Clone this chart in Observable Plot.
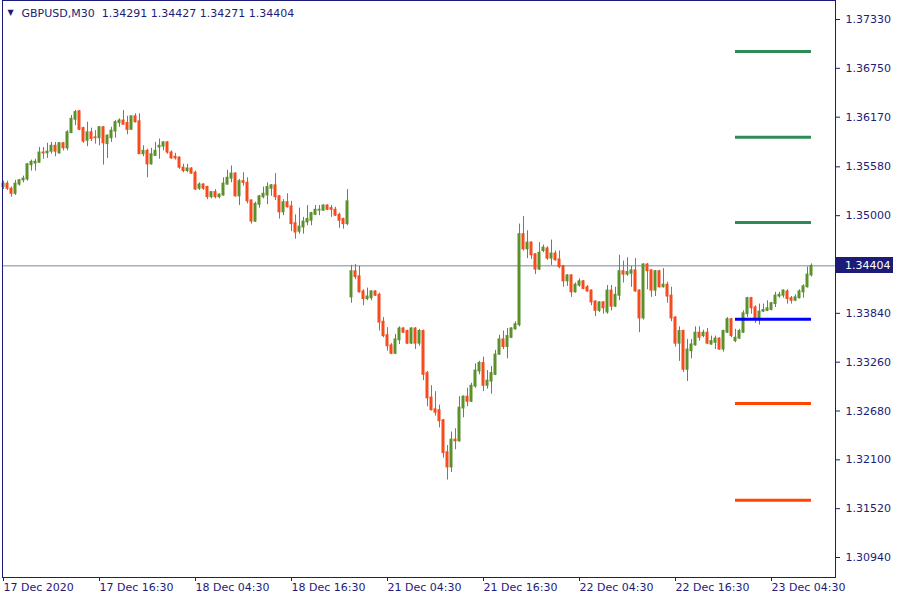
<!DOCTYPE html>
<html>
<head>
<meta charset="utf-8">
<script src="https://cdn.jsdelivr.net/npm/d3@7"></script>
<script src="https://cdn.jsdelivr.net/npm/@observablehq/plot@0.6"></script>
<style>
  html, body { margin: 0; padding: 0; background: #ffffff; }
  #chart { width: 900px; height: 600px; }
</style>
</head>
<body>
<div id="chart"></div>
<script>
// ---- Data (GBPUSD, M30) ----
const symbol = "GBPUSD";
const period = "M30";

const open = [
1.3534,1.3538,1.3532,1.3526,1.3537,1.3542,1.3543,1.3560,1.3562,1.3563,
1.3575,1.3574,1.3576,1.3583,1.3574,1.3586,1.3580,1.3598,1.3614,1.3624,
1.3604,1.3589,1.3599,1.3593,1.3592,1.3605,1.3585,1.3592,1.3600,1.3610,
1.3613,1.3610,1.3602,1.3618,1.3612,1.3573,1.3577,1.3561,1.3571,1.3581,
1.3582,1.3587,1.3575,1.3570,1.3569,1.3557,1.3553,1.3556,1.3551,1.3532,
1.3537,1.3534,1.3522,1.3528,1.3522,1.3524,1.3537,1.3544,1.3550,1.3523,
1.3541,1.3539,1.3518,1.3493,1.3513,1.3522,1.3524,1.3532,1.3536,1.3523,
1.3504,1.3516,1.3511,1.3491,1.3481,1.3486,1.3492,1.3494,1.3501,1.3506,
1.3506,1.3512,1.3509,1.3507,1.3501,1.3496,1.3490,1.3403,1.3434,1.3428,
1.3410,1.3401,1.3402,1.3410,1.3406,1.3374,1.3358,1.3346,1.3336,1.3352,
1.3366,1.3363,1.3348,1.3366,1.3348,1.3363,1.3313,1.3284,1.3270,1.3269,
1.3257,1.3219,1.3201,1.3234,1.3232,1.3271,1.3285,1.3279,1.3297,1.3315,
1.3325,1.3298,1.3303,1.3311,1.3335,1.3353,1.3344,1.3355,1.3365,1.3370,
1.3478,1.3460,1.3468,1.3454,1.3436,1.3458,1.3461,1.3449,1.3455,1.3448,
1.3440,1.3422,1.3429,1.3409,1.3417,1.3422,1.3415,1.3411,1.3398,1.3387,
1.3397,1.3385,1.3411,1.3392,1.3405,1.3434,1.3430,1.3431,1.3435,1.3411,
1.3378,1.3442,1.3435,1.3411,1.3434,1.3415,1.3418,1.3405,1.3379,1.3348,
1.3363,1.3317,1.3339,1.3346,1.3361,1.3357,1.3361,1.3347,1.3349,1.3354,
1.3341,1.3361,1.3377,1.3351,1.3354,1.3361,1.3383,1.3402,1.3391,1.3376,
1.3386,1.3387,1.3388,1.3395,1.3404,1.3405,1.3410,1.3402,1.3399,1.3402,
1.3409,1.3415,1.34291];

const high = [
1.3541,1.3541,1.3534,1.3542,1.3543,1.3547,1.3562,1.3566,1.3567,1.3581,
1.3581,1.3586,1.3587,1.3587,1.3587,1.3587,1.3601,1.3619,1.3625,1.3625,
1.3605,1.3611,1.3604,1.3601,1.3606,1.3606,1.3596,1.3605,1.3613,1.3615,
1.3625,1.3618,1.3618,1.3621,1.3621,1.3583,1.3579,1.3580,1.3587,1.3591,
1.3588,1.3588,1.3577,1.3574,1.3570,1.3561,1.3561,1.3557,1.3553,1.3539,
1.3538,1.3535,1.3528,1.3531,1.3526,1.3545,1.3554,1.3559,1.3551,1.3543,
1.3551,1.3545,1.3519,1.3516,1.3524,1.3534,1.3539,1.3537,1.3550,1.3524,
1.3519,1.3526,1.3517,1.3501,1.3509,1.3498,1.3512,1.3504,1.3512,1.3512,
1.3513,1.3513,1.3512,1.3510,1.3503,1.3497,1.3531,1.3441,1.3442,1.3440,
1.3412,1.3414,1.3411,1.3411,1.3408,1.3379,1.3367,1.3348,1.3359,1.3368,
1.3367,1.3364,1.3367,1.3367,1.3365,1.3364,1.3315,1.3298,1.3291,1.3275,
1.3258,1.3227,1.3243,1.3247,1.3285,1.3286,1.3295,1.3301,1.3324,1.3327,
1.3332,1.3316,1.3321,1.3340,1.3358,1.3363,1.3366,1.3367,1.3374,1.3490,
1.3499,1.3482,1.3469,1.3455,1.3468,1.3465,1.3463,1.3471,1.3458,1.3458,
1.3441,1.3430,1.3430,1.3420,1.3425,1.3423,1.3417,1.3412,1.3399,1.3398,
1.3398,1.3417,1.3417,1.3415,1.3453,1.3446,1.3450,1.3440,1.3449,1.3412,
1.3443,1.3443,1.3436,1.3435,1.3435,1.3437,1.3421,1.3415,1.3380,1.3368,
1.3364,1.3353,1.3353,1.3368,1.3368,1.3364,1.3366,1.3357,1.3357,1.3355,
1.3364,1.3379,1.3378,1.3365,1.3365,1.3387,1.3403,1.3403,1.3393,1.3395,
1.3395,1.3399,1.3397,1.3409,1.3409,1.3412,1.3412,1.3404,1.3406,1.3412,
1.3418,1.3439,1.34427];

const low = [
1.3531,1.3530,1.3522,1.3524,1.3535,1.3539,1.3541,1.3553,1.3553,1.3562,
1.3567,1.3568,1.3573,1.3570,1.3573,1.3577,1.3577,1.3598,1.3607,1.3601,
1.3586,1.3582,1.3588,1.3585,1.3583,1.3560,1.3568,1.3587,1.3592,1.3605,
1.3608,1.3596,1.3602,1.3610,1.3573,1.3570,1.3545,1.3560,1.3571,1.3567,
1.3577,1.3573,1.3567,1.3566,1.3555,1.3551,1.3551,1.3549,1.3530,1.3530,
1.3530,1.3519,1.3520,1.3520,1.3520,1.3523,1.3536,1.3539,1.3522,1.3512,
1.3535,1.3514,1.3490,1.3492,1.3509,1.3520,1.3513,1.3523,1.3518,1.3496,
1.3500,1.3509,1.3481,1.3472,1.3478,1.3478,1.3488,1.3488,1.3500,1.3500,
1.3505,1.3506,1.3498,1.3499,1.3485,1.3484,1.3488,1.3396,1.3424,1.3408,
1.3393,1.3399,1.3399,1.3404,1.3363,1.3355,1.3339,1.3335,1.3335,1.3347,
1.3360,1.3347,1.3347,1.3341,1.3345,1.3304,1.3273,1.3268,1.3262,1.3248,
1.3212,1.3186,1.3195,1.3222,1.3231,1.3260,1.3273,1.3278,1.3295,1.3311,
1.3291,1.3294,1.3288,1.3310,1.3334,1.3341,1.3330,1.3354,1.3364,1.3368,
1.3458,1.3449,1.3448,1.3430,1.3435,1.3456,1.3447,1.3441,1.3446,1.3437,
1.3415,1.3416,1.3403,1.3408,1.3415,1.3412,1.3409,1.3393,1.3380,1.3385,
1.3383,1.3383,1.3387,1.3391,1.3399,1.3420,1.3428,1.3415,1.3409,1.3361,
1.3376,1.3412,1.3403,1.3404,1.3414,1.3414,1.3396,1.3374,1.3344,1.3327,
1.3314,1.3303,1.3330,1.3345,1.3351,1.3355,1.3347,1.3346,1.3341,1.3340,
1.3338,1.3360,1.3355,1.3349,1.3353,1.3360,1.3379,1.3383,1.3372,1.3370,
1.3385,1.3386,1.3387,1.3391,1.3402,1.3402,1.3395,1.3395,1.3398,1.3401,
1.3402,1.3414,1.34271];

const close = [
1.3538,1.3532,1.3526,1.3538,1.3542,1.3544,1.3561,1.3564,1.3564,1.3575,
1.3574,1.3576,1.3583,1.3576,1.3586,1.3580,1.3599,1.3615,1.3623,1.3602,
1.3588,1.3599,1.3591,1.3592,1.3605,1.3586,1.3595,1.3601,1.3611,1.3613,
1.3608,1.3602,1.3618,1.3611,1.3573,1.3577,1.3561,1.3573,1.3577,1.3583,
1.3587,1.3575,1.3568,1.3568,1.3557,1.3553,1.3556,1.3550,1.3531,1.3537,
1.3532,1.3522,1.3528,1.3522,1.3525,1.3538,1.3545,1.3550,1.3523,1.3541,
1.3539,1.3517,1.3493,1.3514,1.3523,1.3526,1.3534,1.3536,1.3522,1.3504,
1.3516,1.3510,1.3490,1.3480,1.3487,1.3493,1.3496,1.3503,1.3507,1.3507,
1.3512,1.3507,1.3507,1.3500,1.3494,1.3490,1.3517,1.3434,1.3427,1.3409,
1.3401,1.3404,1.3410,1.3405,1.3373,1.3357,1.3345,1.3336,1.3353,1.3366,
1.3361,1.3348,1.3366,1.3348,1.3363,1.3311,1.3283,1.3269,1.3266,1.3256,
1.3218,1.3201,1.3234,1.3232,1.3272,1.3285,1.3279,1.3298,1.3316,1.3325,
1.3298,1.3304,1.3313,1.3335,1.3353,1.3344,1.3357,1.3366,1.3371,1.3478,
1.3460,1.3468,1.3453,1.3436,1.3456,1.3462,1.3449,1.3455,1.3447,1.3439,
1.3422,1.3429,1.3409,1.3418,1.3422,1.3413,1.3410,1.3397,1.3387,1.3397,
1.3390,1.3411,1.3392,1.3406,1.3434,1.3430,1.3433,1.3435,1.3410,1.3378,
1.3442,1.3434,1.3411,1.3434,1.3415,1.3418,1.3404,1.3378,1.3348,1.3363,
1.3317,1.3341,1.3347,1.3361,1.3355,1.3361,1.3348,1.3351,1.3354,1.3341,
1.3363,1.3377,1.3357,1.3355,1.3363,1.3384,1.3402,1.3390,1.3376,1.3386,
1.3388,1.3390,1.3396,1.3405,1.3406,1.3411,1.3401,1.3399,1.3403,1.3410,
1.3416,1.3430,1.34404];

// Horizontal levels drawn at the right end of the chart
const levels      = [1.3695, 1.3593, 1.3492, 1.3377, 1.3277, 1.3162];
const levelColors = ["#2e8b57", "#2e8b57", "#2e8b57", "#0000ff", "#ff4500", "#ff4500"];
const levelBars   = [183, 202];   // bar index range covered by the level lines

// Axes
const yTicks = [1.37330, 1.36750, 1.36170, 1.35580, 1.35000, 1.33840, 1.33260, 1.32680, 1.32100, 1.31520, 1.30940];
const xTickBars = [0, 24, 48, 72, 96, 120, 144, 168, 192];
const xTickLabels = ["17 Dec 2020", "17 Dec 16:30", "18 Dec 04:30", "18 Dec 16:30", "21 Dec 04:30",
                     "21 Dec 16:30", "22 Dec 04:30", "22 Dec 16:30", "23 Dec 04:30"];

// ---- Chart ----
const NAVY = "#1c1c78";
const UP = "#5a912b";
const DOWN = "#f64b1e";
const W = 900, H = 600, ML = 2, MR = 65, MT = 0, MB = 23;

const candles = open.map((o, i) => ({i, o, h: high[i], l: low[i], c: close[i]}));
const last = candles[candles.length - 1];
const f5 = d3.format(".5f");
const header = `${symbol},${period}\u00a0\u00a0${[last.o, last.h, last.l, last.c].map(f5).join(" ")}`;
const col = d => d.c >= d.o ? UP : DOWN;

const chart = Plot.plot({
  width: W, height: H,
  marginLeft: ML, marginRight: MR, marginTop: MT, marginBottom: MB,
  x: {type: "linear", domain: [-0.25, 208.0], axis: null, label: null},
  y: {type: "linear", domain: [1.307025, 1.375557], axis: null, label: null},
  style: {fontFamily: "'DejaVu Sans', sans-serif", fontSize: "11px", background: "#ffffff", color: NAVY},
  marks: [
    Plot.ruleY([last.c], {stroke: "#778899", strokeWidth: 1}),
    Plot.ruleX(candles, {x: "i", y1: "l", y2: "h", stroke: col, strokeWidth: 1}),
    Plot.rect(candles, {
      x1: d => d.i - 0.375, x2: d => d.i + 0.375,
      y1: "o", y2: "c", fill: col, insetTop: -0.5, insetBottom: -0.5
    }),
    Plot.ruleY(levels, {
      y: d => d, x1: levelBars[0], x2: levelBars[1],
      stroke: (d, i) => levelColors[i], strokeWidth: 3
    }),
    Plot.frame({stroke: NAVY, strokeWidth: 1}),
    Plot.axisY(yTicks, {
      anchor: "right", label: null, tickFormat: f5, tickSize: 4, tickPadding: 6,
      stroke: NAVY, fill: NAVY, fontSize: 11
    }),
    Plot.axisX(xTickBars, {
      anchor: "bottom", label: null, tickFormat: (d, i) => xTickLabels[i], textAnchor: "start",
      tickSize: 4, tickPadding: 2, dx: 0, stroke: NAVY, fill: NAVY, fontSize: 11
    }),
    Plot.text(["\u25BC"], {frameAnchor: "top-left", dx: 8, dy: 12, textAnchor: "middle", lineAnchor: "middle", fill: NAVY, fontSize: 8}),
    Plot.text([header], {frameAnchor: "top-left", dx: 19, dy: 13, textAnchor: "start", lineAnchor: "middle", fill: NAVY, fontSize: 11})
  ]
});

document.getElementById("chart").appendChild(chart);

// Current price label box on the price axis, positioned by the y scale
const yPos = chart.scale("y").apply(last.c);
const svg = d3.select(chart);
const g = svg.append("g");
g.append("rect")
  .attr("x", W - MR + 1).attr("y", Math.round(yPos) - 8)
  .attr("width", 57).attr("height", 16)
  .attr("fill", NAVY);
g.append("text")
  .attr("x", W - MR + 10).attr("y", yPos)
  .attr("dy", "0.35em")
  .attr("text-anchor", "start")
  .attr("fill", "#ffffff")
  .attr("font-family", "'DejaVu Sans', sans-serif")
  .attr("font-size", 11)
  .text(f5(last.c));
</script>
</body>
</html>
